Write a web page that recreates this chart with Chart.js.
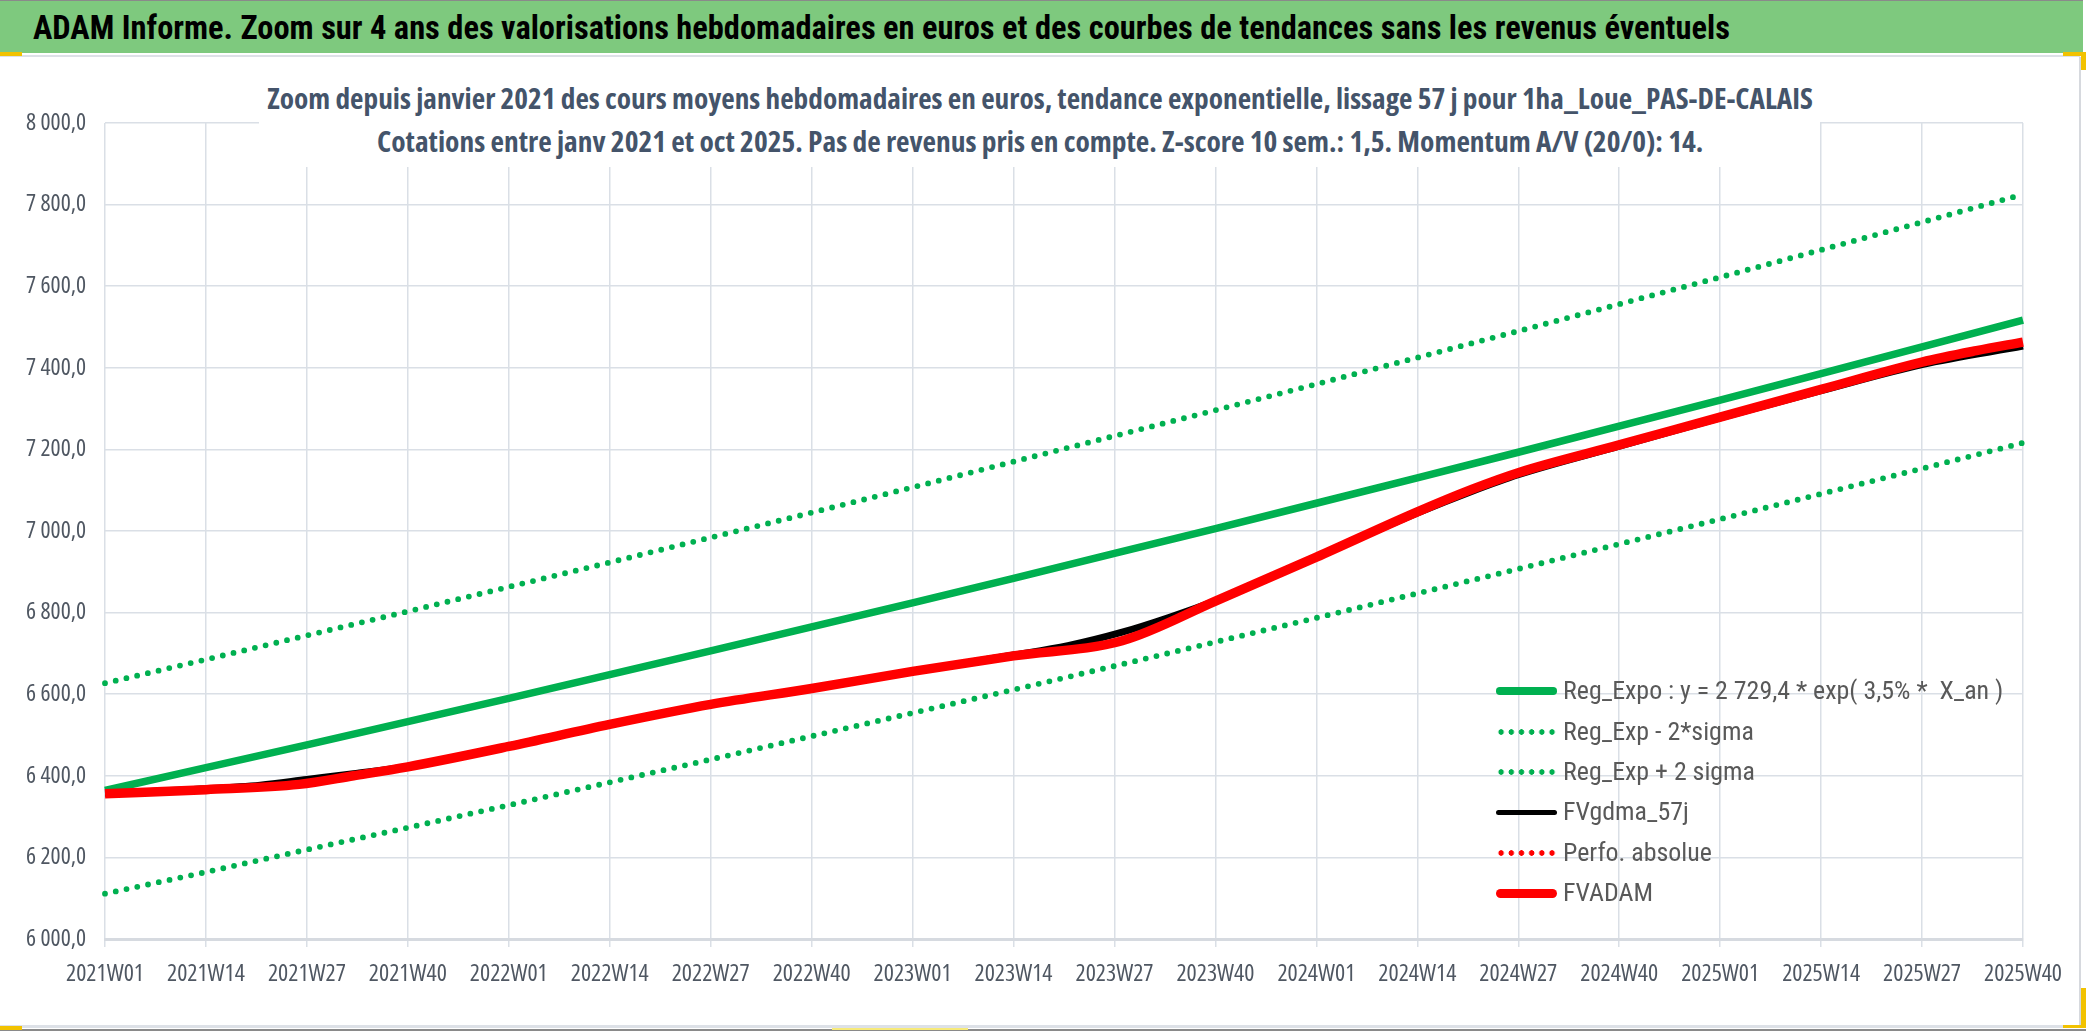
<!DOCTYPE html>
<html lang="fr">
<head>
<meta charset="utf-8">
<title>ADAM Informe - Zoom 4 ans</title>
<script src="https://cdn.jsdelivr.net/npm/chart.js@4.4.0/dist/chart.umd.min.js"></script>
<style>
    html, body { margin: 0; padding: 0; background: #fff; }
    body {
        width: 2086px; height: 1031px; position: relative; overflow: hidden;
        font-family: 'Liberation Sans Narrow', 'DejaVu Sans Condensed', 'Liberation Sans', sans-serif;
    }
    #adamChart { position: absolute; left: 0; top: 0; }
    #header {
        position: absolute; left: 0; top: 0; width: 2083px; height: 53px;
        background: #7ec97e; border-top: 1px solid #8a8a8a; box-sizing: border-box;
    }
    #headerRow { position: absolute; left: 33px; top: 0; height: 57px; display: flex; align-items: center; }
    #headerText { font-weight: bold; color: #000; white-space: nowrap; transform-origin: left center; line-height: 1; }
    #sepLine { position: absolute; left: 0; top: 55px; width: 2080px; height: 2px; background: #dde1e7; }
    #rightLine { position: absolute; left: 2079px; top: 57px; width: 2px; height: 970px; background: #d6d9de; }
    #bottomLine { position: absolute; left: 0; top: 1025px; width: 2080px; height: 3px; background: #dde1e7; }
    #bottomEdge { position: absolute; left: 0; top: 1029px; width: 2086px; height: 2px; background: #8a8a8a; }
    .mark { position: absolute; background: #f2c200; }
    #subBox { position: absolute; left: 259px; top: 60px; width: 1561px; height: 107px; background: #fff; }
    .sub {
        position: absolute; left: 0; width: 2080px; height: 40px; display: flex; align-items: center;
        justify-content: center; font-weight: bold; color: #44546a; white-space: nowrap;
    }
    .sub span { display: inline-block; line-height: 1; }
    #legend { position: absolute; left: 1496px; top: 671px; }
    .legRow { display: flex; align-items: center; height: 40.4px; }
    .legSample { width: 61px; margin-right: 6px; flex: none; }
    .legText { color: #595959; white-space: pre; transform-origin: left center; line-height: 1; }
</style>
</head>
<body>
<canvas id="adamChart" width="2086" height="1031"></canvas>
<div id="header"></div>
<div id="headerRow"><span id="headerText">ADAM Informe. Zoom sur 4 ans des valorisations hebdomadaires en euros et des courbes de tendances sans les revenus éventuels</span></div>
<div id="sepLine"></div>
<div id="rightLine"></div>
<div id="bottomLine"></div>
<div id="bottomEdge"></div>
<div class="mark" style="left:0;top:52px;width:22px;height:4px"></div>
<div class="mark" style="left:2063px;top:52px;width:23px;height:4px"></div>
<div class="mark" style="left:2081px;top:52px;width:5px;height:18px"></div>
<div class="mark" style="left:0;top:1026px;width:22px;height:4px"></div>
<div class="mark" style="left:2081px;top:988px;width:5px;height:40px"></div>
<div class="mark" style="left:2063px;top:1025px;width:23px;height:3px"></div>
<div class="mark" style="left:832px;top:1028px;width:136px;height:2px;background:#f7ea7a"></div>
<div id="subBox"></div>
<div class="sub" style="top:79px"><span id="sub1">Zoom depuis janvier 2021 des cours moyens hebdomadaires en euros, tendance exponentielle, lissage 57 j pour 1ha_Loue_PAS-DE-CALAIS</span></div>
<div class="sub" style="top:122px"><span id="sub2">Cotations entre janv 2021 et oct 2025. Pas de revenus pris en compte. Z-score 10 sem.: 1,5. Momentum A/V (20/0): 14.</span></div>
<div id="legend"></div>

<script>
// ========== DONNÉES ==========

// semaines 2021W01 .. 2025W40 (52 semaines par an)
const weeks = [];
[[2021, 52], [2022, 52], [2023, 52], [2024, 52], [2025, 40]].forEach(([year, last]) => {
    for (let w = 1; w <= last; w++) weeks.push(year + 'W' + String(w).padStart(2, '0'));
});

const regWeeks = ['2021W01', '2021W14', '2021W27', '2021W40', '2022W01', '2022W14', '2022W27', '2022W40',
    '2023W01', '2023W14', '2023W27', '2023W40', '2024W01', '2024W14', '2024W27', '2024W40',
    '2025W01', '2025W14', '2025W27', '2025W40'];
const regExpo = [6364, 6420, 6476, 6533, 6590, 6648, 6706, 6765, 6824, 6884,
    6945, 7006, 7068, 7130, 7193, 7257, 7321, 7386, 7451, 7517];
const regMinus2Sigma = [6111, 6164, 6219, 6273, 6328, 6384, 6440, 6497, 6554, 6611,
    6669, 6728, 6787, 6847, 6907, 6968, 7029, 7091, 7153, 7216];
const regPlus2Sigma = [6627, 6685, 6744, 6803, 6863, 6923, 6984, 7045, 7107, 7170,
    7233, 7296, 7360, 7425, 7490, 7556, 7622, 7689, 7757, 7825];

// FVADAM
const adamWeeks = ['2021W01', '2021W14', '2021W26', '2021W33', '2021W40', '2022W01', '2022W14', '2022W27',
    '2022W40', '2023W01', '2023W14', '2023W28', '2023W40', '2024W01', '2024W14', '2024W21',
    '2024W27', '2024W40', '2025W01', '2025W14', '2025W27', '2025W34', '2025W40'];
const fvAdam = [6356, 6366, 6379, 6400, 6422, 6472, 6526, 6575, 6614, 6656, 6694,
    6731, 6828, 6936, 7047, 7102, 7143, 7211, 7279, 7347, 7414, 7442, 7463];

// FVgdma_57j
const gdmaWeeks = ['2021W01', '2021W14', '2021W21', '2021W27', '2021W33', '2021W40', '2022W01', '2022W14',
    '2022W27', '2022W40', '2023W01', '2023W14', '2023W21', '2023W28', '2023W34', '2023W40',
    '2024W01', '2024W14', '2024W21', '2024W27', '2024W40', '2025W01', '2025W14', '2025W27', '2025W40'];
const fvGdma = [6357, 6368, 6377, 6391, 6405, 6423, 6473, 6526, 6575, 6614, 6656, 6696,
    6719, 6752, 6788, 6829, 6936, 7044, 7097, 7138, 7208, 7277, 7344, 7408, 7453];

const GREEN = '#00b050';
const RED = '#ff0000';
const GRID = '#dadfe6';

function pts(wk, vals) {
    return wk.map((w, i) => ({ x: w, y: vals[i] }));
}

function formatFr(v) {
    const [ent, dec] = v.toFixed(1).split('.');
    return ent.replace(/\B(?=(\d{3})+(?!\d))/g, ' ') + ',' + dec;
}

// ========== POLICE ÉTROITE ==========
// cherche parmi les polices installées celle dont les proportions collent le mieux
const mctx = document.createElement('canvas').getContext('2d');
const FONT_CANDIDATES = [
    { family: "'Liberation Sans Narrow'", stretch: '' },
    { family: "'Noto Sans'", stretch: 'condensed' },
    { family: "'Noto Sans'", stretch: 'semi-condensed' },
    { family: "'Open Sans'", stretch: 'condensed' },
    { family: "'Open Sans'", stretch: 'semi-condensed' },
    { family: "'Roboto Condensed'", stretch: '' },
    { family: "'DejaVu Sans Condensed'", stretch: '' },
    { family: "'DejaVu Sans'", stretch: 'condensed' }
];

function pickFont(sample, targetW, heightSample, targetH, weight) {
    let best = null;
    FONT_CANDIDATES.forEach(c => {
        const f = (weight ? weight + ' ' : '') + (c.stretch ? c.stretch + ' ' : '') + '100px ' + c.family;
        mctx.font = f;
        const w = mctx.measureText(sample).width;
        const h = mctx.measureText(heightSample).actualBoundingBoxAscent;
        if (!w || !h) return;
        const size = 100 * targetW / w;
        const err = Math.abs(h * size / 100 - targetH);
        if (!best || err < best.err) best = { family: c.family, stretch: c.stretch, size: size, err: err };
    });
    return best;
}

const xFont = pickFont('2021W01', 78, '2021', 16.8, '');
const yFont = pickFont('8 000,0', 60, '8000', 16.8, '');

function chartFont(f, size) {
    const o = { family: f.family, size: size };
    if (f.stretch) o.weight = f.stretch;
    return o;
}

// ========== DATASETS ==========
const datasets = [
    { label: 'Reg_Expo : y = 2 729,4 * exp( 3,5% *  X_an )', data: pts(regWeeks, regExpo),
      borderColor: GREEN, borderWidth: 7.5, order: 2, dotted: false },
    { label: 'Reg_Exp - 2*sigma', data: pts(regWeeks, regMinus2Sigma),
      borderColor: GREEN, borderWidth: 5.8, borderDash: [0, 11], borderCapStyle: 'round', order: 3, dotted: true },
    { label: 'Reg_Exp + 2 sigma', data: pts(regWeeks, regPlus2Sigma),
      borderColor: GREEN, borderWidth: 5.8, borderDash: [0, 11], borderCapStyle: 'round', order: 3, dotted: true },
    { label: 'FVgdma_57j', data: pts(gdmaWeeks, fvGdma),
      borderColor: '#000000', borderWidth: 7, order: 1, dotted: false, legW: 5, cubicInterpolationMode: 'monotone' },
    { label: 'Perfo. absolue', data: [],
      borderColor: RED, borderWidth: 4, borderDash: [0, 8], borderCapStyle: 'round', order: 1, dotted: true },
    { label: 'FVADAM', data: pts(adamWeeks, fvAdam),
      borderColor: RED, borderWidth: 9.5, order: 0, dotted: false, legW: 9, cubicInterpolationMode: 'monotone' }
];

// ========== GRAPHIQUE ==========
try {
    const ctx = document.getElementById('adamChart').getContext('2d');
    const adamChart = new Chart(ctx, {
        type: 'line',
        data: { labels: weeks, datasets: datasets },
        options: {
            responsive: false,
            animation: false,
            devicePixelRatio: 1,
            layout: { padding: { top: 123, right: 63, bottom: 32, left: 0 } },
            elements: { point: { radius: 0, hoverRadius: 0 }, line: { tension: 0, fill: false } },
            plugins: { legend: { display: false }, tooltip: { enabled: false }, title: { display: false } },
            scales: {
                x: {
                    type: 'category',
                    offset: false,
                    afterFit: scale => { scale.height = 60; },
                    border: { display: true, color: '#d6dae0', width: 3 },
                    grid: {
                        offset: false,
                        lineWidth: 1.5,
                        tickLength: 8,
                        color: c => (c.index % 13 === 0 ? GRID : 'rgba(0,0,0,0)'),
                        tickColor: c => (c.index % 13 === 0 ? GRID : 'rgba(0,0,0,0)')
                    },
                    ticks: {
                        autoSkip: false,
                        maxRotation: 0,
                        minRotation: 0,
                        padding: 13,
                        color: '#4f5762',
                        font: chartFont(xFont, xFont.size),
                        callback: (value, index) => (index % 13 === 0 ? weeks[index] : '')
                    }
                },
                y: {
                    min: 6000,
                    max: 8000,
                    afterFit: scale => { scale.width = 105; },
                    border: { display: false },
                    grid: { color: GRID, lineWidth: 1.5, drawTicks: false },
                    ticks: {
                        stepSize: 200,
                        padding: 19,
                        color: '#4f5762',
                        font: chartFont(yFont, yFont.size),
                        callback: v => formatFr(v)
                    }
                }
            }
        }
    });
} catch (error) {
    console.error('Erreur graphique ADAM:', error);
}

// ========== LÉGENDE ==========
const legend = document.getElementById('legend');
datasets.forEach(ds => {
    const row = document.createElement('div');
    row.className = 'legRow';
    const sample = document.createElement('span');
    sample.className = 'legSample';
    if (ds.dotted) {
        sample.style.height = '6px';
        sample.style.background = 'radial-gradient(circle, ' + ds.borderColor + ' 2.5px, rgba(0,0,0,0) 3px) 0 0 / 10.2px 6px repeat-x';
    } else {
        const h = ds.legW || ds.borderWidth;
        sample.style.height = h + 'px';
        sample.style.borderRadius = (h / 2) + 'px';
        sample.style.background = ds.borderColor;
    }
    const txt = document.createElement('span');
    txt.className = 'legText';
    txt.textContent = ds.label;
    row.appendChild(sample);
    row.appendChild(txt);
    legend.appendChild(row);
});

// ========== TEXTES HTML ==========
function applyFont(el, f, weight) {
    el.style.fontFamily = f.family;
    el.style.fontSize = f.size.toFixed(1) + 'px';
    if (f.stretch) el.style.fontStretch = f.stretch;
    if (weight) el.style.fontWeight = weight;
}

const headerEl = document.getElementById('headerText');
const s1 = document.getElementById('sub1');
const s2 = document.getElementById('sub2');
const legTexts = Array.from(document.querySelectorAll('.legText'));

const hFont = pickFont(headerEl.textContent, 1697, 'ADAM', 23, 'bold');
applyFont(headerEl, hFont, 'bold');
const sFont = pickFont(s1.textContent, 1546, 'Zoom', 21.7, 'bold');
applyFont(s1, sFont, 'bold');
applyFont(s2, sFont, 'bold');
const lFont = pickFont(legTexts[0].textContent, 440, 'Reg', 18.3, '');
legTexts.forEach(t => applyFont(t, lFont, ''));

// ajuste la largeur des textes sur celle du modèle
function fitAll() {
    const items = [[headerEl, 1697], [s1, 1546], [s2, 1326]];
    items.forEach(([el]) => { el.style.transform = 'none'; });
    legTexts.forEach(t => { t.style.transform = 'none'; });
    items.forEach(([el, target]) => {
        const w = el.offsetWidth;
        if (w > 0) el.style.transform = 'scaleX(' + (target / w).toFixed(4) + ')';
    });
    const k = 440 / legTexts[0].offsetWidth;
    legTexts.forEach(t => { t.style.transform = 'scaleX(' + k.toFixed(4) + ')'; });
}
fitAll();
if (document.fonts && document.fonts.ready) document.fonts.ready.then(fitAll);
</script>
</body>
</html>
